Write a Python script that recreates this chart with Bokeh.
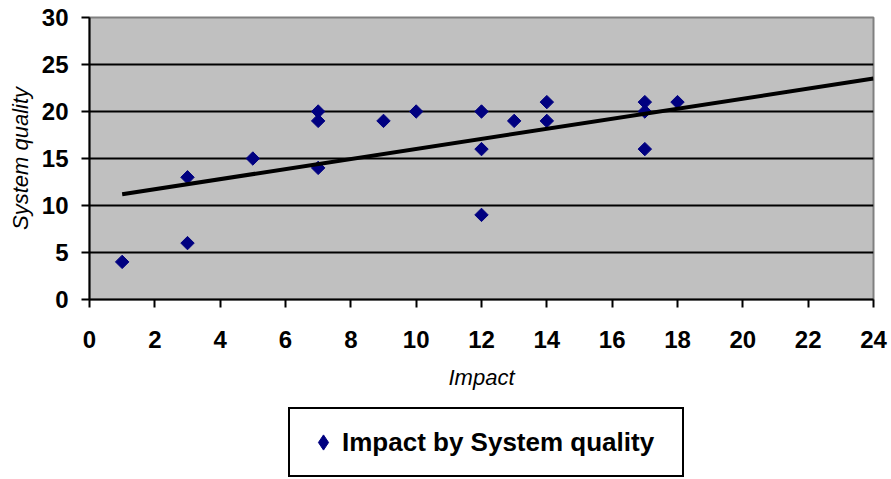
import math
from bokeh.plotting import figure
from bokeh.layouts import column
from bokeh.models import Range1d, FixedTicker, Legend, LegendItem, ColumnDataSource
from bokeh.embed import file_html
from bokeh.resources import INLINE

# Data
impact = [1, 3, 3, 5, 7, 7, 7, 9, 10, 12, 12, 12, 13, 14, 14, 17, 17, 17, 18]
system_quality = [4, 13, 6, 15, 20, 19, 14, 19, 20, 20, 16, 9, 19, 21, 19, 21, 20, 16, 21]
trend_x = [1, 24]
trend_y = [11.2, 23.5]
x_ticks = [0, 2, 4, 6, 8, 10, 12, 14, 16, 18, 20, 22, 24]
y_ticks = [0, 5, 10, 15, 20, 25, 30]
grid_ticks = [5, 10, 15, 20, 25]
series_label = "Impact by System quality"

FONT = "Liberation Sans"
NAVY = "#000080"

source = ColumnDataSource(data=dict(x=impact, y=system_quality))

p = figure(frame_width=784, frame_height=282,
           min_border_left=89, min_border_right=18,
           min_border_top=17, min_border_bottom=105,
           x_range=Range1d(0, 24), y_range=Range1d(0, 30),
           output_backend="svg", toolbar_location=None,
           background_fill_color="#C0C0C0", border_fill_color="white")

p.outline_line_color = "#808080"
p.outline_line_width = 2

p.xgrid.visible = False
p.ygrid.ticker = FixedTicker(ticks=grid_ticks)
p.ygrid.grid_line_color = "black"
p.ygrid.grid_line_width = 2

for ax in (p.xaxis, p.yaxis):
    ax.axis_line_color = "black"
    ax.axis_line_width = 2
    ax.major_tick_line_color = "black"
    ax.major_tick_line_width = 2
    ax.major_tick_in = 0
    ax.major_tick_out = 8
    ax.minor_tick_line_color = None
    ax.major_label_text_font = FONT
    ax.major_label_text_font_style = "bold"
    ax.major_label_text_font_size = "24px"
    ax.major_label_text_color = "black"
    ax.axis_label_text_font = FONT
    ax.axis_label_text_font_style = "italic"
    ax.axis_label_text_font_size = "22px"
    ax.axis_label_text_color = "black"

p.xaxis.ticker = FixedTicker(ticks=x_ticks)
p.yaxis.ticker = FixedTicker(ticks=y_ticks)
p.xaxis.axis_label = "Impact"
p.yaxis.axis_label = "System quality"
p.xaxis.major_label_standoff = 23
p.xaxis.axis_label_standoff = 14
p.yaxis.major_label_standoff = 13
p.yaxis.axis_label_standoff = 6

p.scatter("x", "y", source=source, marker="square", angle=math.pi / 4,
          size=9.5, fill_color=NAVY, line_color=NAVY)
p.line(trend_x, trend_y, line_color="black", line_width=4)

# Legend strip below the chart: same series, drawn in a view that shows no points
q = figure(frame_width=784, height=75, min_border_left=89, min_border_right=18,
           min_border_top=0, min_border_bottom=0,
           x_range=Range1d(-200, -100), y_range=Range1d(-200, -100),
           x_axis_type=None, y_axis_type=None,
           output_backend="svg", toolbar_location=None,
           background_fill_color="white", border_fill_color="white")
q.outline_line_color = None
q.grid.visible = False
r = q.scatter("x", "y", source=source, marker="diamond", size=15,
              fill_color=NAVY, line_color=NAVY)

legend = Legend(items=[LegendItem(label=series_label, renderers=[r])],
                location=(199, 2), margin=0, padding=14,
                glyph_width=38, glyph_height=38, label_standoff=0,
                label_width=326,
                border_line_color="black", border_line_width=2,
                border_line_alpha=1,
                background_fill_color="white", background_fill_alpha=1,
                label_text_font=FONT, label_text_font_style="bold",
                label_text_font_size="26px", label_text_color="black")
q.add_layout(legend, "center")

open("out.html", "w").write(file_html(column(p, q, spacing=0), INLINE))
